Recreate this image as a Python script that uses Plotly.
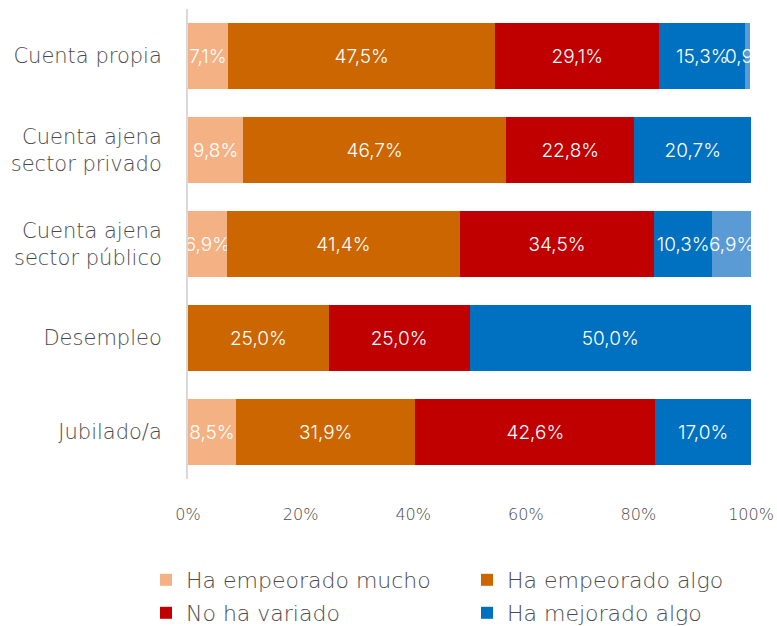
import plotly.graph_objects as go

categories = ["Cuenta propia", "Cuenta ajena<br>sector privado", "Cuenta ajena<br>sector público", "Desempleo", "Jubilado/a"]
series_names = ["Ha empeorado mucho", "Ha empeorado algo", "No ha variado", "Ha mejorado algo", "Ha mejorado mucho"]
empeorado_mucho = [7.1, 9.8, 6.9, 0.0, 8.5]
empeorado_algo = [47.5, 46.7, 41.4, 25.0, 31.9]
no_variado = [29.1, 22.8, 34.5, 25.0, 42.6]
mejorado_algo = [15.3, 20.7, 10.3, 50.0, 17.0]
mejorado_mucho = [0.9, 0.0, 6.9, 0.0, 0.0]
colors = ["#F4B183", "#CC6600", "#C00000", "#0070C0", "#5B9BD5"]
legend_of = ["legend", "legend", "legend2", "legend2", None]
x_ticks = [0, 20, 40, 60, 80, 100]

all_series = [empeorado_mucho, empeorado_algo, no_variado, mejorado_algo, mejorado_mucho]

FONT = "DejaVu Sans"
BAR_FONT = "Inter"
GREY = "#4a4a4a"
W = 300

fig = go.Figure()
for name, vals, col, lg in zip(series_names, all_series, colors, legend_of):
    txt = [("" if v == 0 else f"{v:.1f}".replace(".", ",") + "%") for v in vals]
    fig.add_trace(go.Bar(
        y=categories, x=vals, name=name, orientation="h",
        marker=dict(color=col, line=dict(width=0)),
        text=txt, textposition="inside", insidetextanchor="middle",
        constraintext="none", textangle=0,
        textfont=dict(color="white", size=19, family=BAR_FONT, weight=300),
        showlegend=lg is not None, legend=lg or "legend", hoverinfo="skip",
    ))

# plot area: x 188..751, y 9..479
PL, PR, PT, PB = 188, 751, 9, 479
def lx(px):
    return (px - PL) / (PR - PL)
def ly(py):
    return (PB - py) / (PB - PT)

leg_common = dict(
    orientation="h", xref="paper", yref="paper",
    xanchor="left", yanchor="middle",
    entrywidth=276, entrywidthmode="pixels",
    font=dict(size=22, color=GREY, family=FONT, weight=W),
    traceorder="normal", bgcolor="rgba(0,0,0,0)",
)

fig.update_layout(
    barmode="stack",
    bargap=0.29,
    width=777, height=626,
    margin=dict(l=PL, r=777 - PR, t=PT, b=626 - PB, autoexpand=False),
    paper_bgcolor="white", plot_bgcolor="white",
    font=dict(family=FONT, color=GREY, size=17, weight=W),
    xaxis=dict(
        range=[0, 100], tickvals=x_ticks,
        ticktext=[f"{t}%" for t in x_ticks],
        showgrid=False, zeroline=False, showline=False,
        ticks="", ticklabelstandoff=24, automargin=False,
        tickfont=dict(size=16, color=GREY, family=FONT, weight=W),
        fixedrange=True,
    ),
    yaxis=dict(
        categoryorder="array", categoryarray=categories,
        autorange="reversed", automargin=False,
        showgrid=False, zeroline=False,
        showline=True, linecolor="#D9D9D9", linewidth=2,
        ticks="", ticklabelstandoff=20,
        tickfont=dict(size=21, color=GREY, family=FONT, weight=W),
        fixedrange=True,
    ),
    legend=dict(x=lx(146), y=ly(580), **leg_common),
    legend2=dict(x=lx(146), y=ly(613), **leg_common),
)

fig.write_html(
    "out.html",
    config={"displayModeBar": False},
    post_script="document.body.style.margin='0';document.body.style.padding='0';",
)
